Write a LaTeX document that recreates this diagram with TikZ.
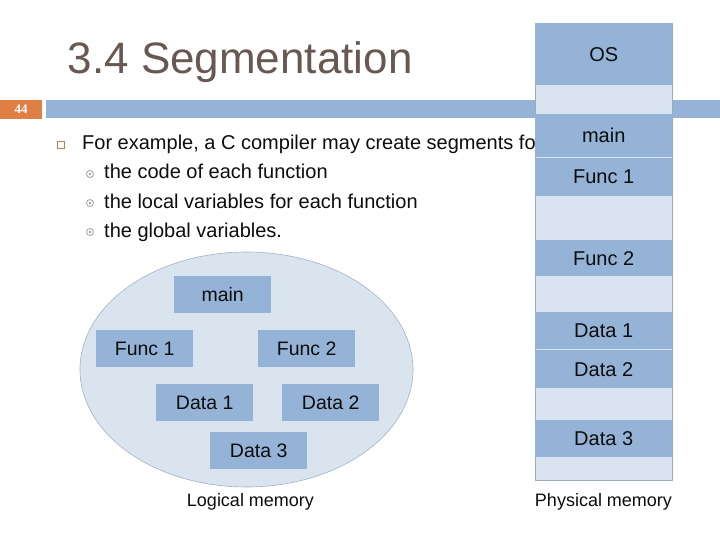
\documentclass[tikz,border=0pt]{standalone}
\usepackage{fontspec}
\usetikzlibrary{shapes.geometric}
\setmainfont{Liberation Sans}
\newfontfamily\numfont{Liberation Serif}
\definecolor{segdark}{HTML}{95B3D7}
\definecolor{seglight}{HTML}{D8E3EF}
\definecolor{ellfill}{HTML}{D9E4EF}
\definecolor{ellline}{HTML}{A3B3C4}
\definecolor{colline}{HTML}{9DAAB8}
\definecolor{accent}{HTML}{DF7F43}
\definecolor{titlecol}{HTML}{675852}
\definecolor{bulletgray}{HTML}{A0A0A0}
\definecolor{txt}{HTML}{0D0D0D}
\begin{document}
\begin{tikzpicture}[x=1pt,y=-1pt,
  seg/.style={fill=segdark,draw=none,inner sep=0,minimum width=137pt,anchor=north west,text=txt,font=\fontsize{20}{24}\selectfont},
  lbox/.style={fill=segdark,draw=none,inner sep=0,minimum width=97pt,minimum height=37pt,anchor=north west,text=txt,font=\fontsize{19.5}{23}\selectfont},
  body/.style={anchor=base west,inner sep=0,text=txt,font=\fontsize{20}{24}\selectfont},
  caption/.style={inner sep=0,text=txt,font=\fontsize{18}{22}\selectfont},
  subbullet/.style={circle,draw=bulletgray,line width=0.8pt,inner sep=0,minimum size=7pt}
]
\useasboundingbox (0,0) rectangle (720,540);
\fill[white] (0,0) rectangle (720,540);
% title
\node[anchor=base west,inner sep=0,text=titlecol,font=\fontsize{44}{50}\selectfont] (title) at (67.5,73.5) {3.4 Segmentation};
% header bar
\fill[segdark] (46,100) rectangle (720,118);
\node[fill=accent,inner sep=0,minimum width=42pt,minimum height=19pt,anchor=north west,text=white,font=\numfont\bfseries\fontsize{13}{15}\selectfont] (pagenum) at (0,99.5) {44};
% bullets
\node[draw=accent!70!gray,line width=0.6pt,inner sep=0,minimum size=7pt] (sq) at (60.5,145) {};
\node[body] (l1) at (82,150) {For example, a C compiler may create segments fo};
\node[subbullet] (b2) at (90,174) {};
\fill[bulletgray] (b2.center) circle (1.4pt);
\node[body] (l2) at (104,179) {the code of each function};
\node[subbullet] (b3) at (90,203) {};
\fill[bulletgray] (b3.center) circle (1.4pt);
\node[body] (l3) at (104,208) {the local variables for each function};
\node[subbullet] (b4) at (90,232) {};
\fill[bulletgray] (b4.center) circle (1.4pt);
\node[body] (l4) at (104,237) {the global variables.};
% physical memory column
\node[fill=seglight,draw=colline,line width=0.6pt,inner sep=0,minimum width=137pt,minimum height=457pt,anchor=north west] (column) at (535,23) {};
\node[seg,minimum height=62pt] (os) at (535,23) {OS};
\node[seg,minimum height=43pt] (pmain) at (535,114) {main};
\node[seg,minimum height=38pt] (pf1) at (535,158) {Func 1};
\node[seg,minimum height=36pt] (pf2) at (535,240) {Func 2};
\node[seg,minimum height=37pt] (pd1) at (535,312) {Data 1};
\node[seg,minimum height=38pt] (pd2) at (535,350) {Data 2};
\node[seg,minimum height=37pt] (pd3) at (535,420) {Data 3};
\node[caption] (phys) at (603.5,502) {Physical memory};
% logical memory
\node[ellipse,fill=ellfill,draw=ellline,line width=0.6pt,minimum width=333pt,minimum height=235pt,inner sep=0] (ell) at (246.5,369.5) {};
\node[lbox] (lmain) at (174,276) {main};
\node[lbox] (lf1) at (96,330) {Func 1};
\node[lbox] (lf2) at (258,330) {Func 2};
\node[lbox] (ld1) at (156,384) {Data 1};
\node[lbox] (ld2) at (282,384) {Data 2};
\node[lbox] (ld3) at (210,432) {Data 3};
\node[caption] (logi) at (250.5,502) {Logical memory};
\end{tikzpicture}
\end{document}
